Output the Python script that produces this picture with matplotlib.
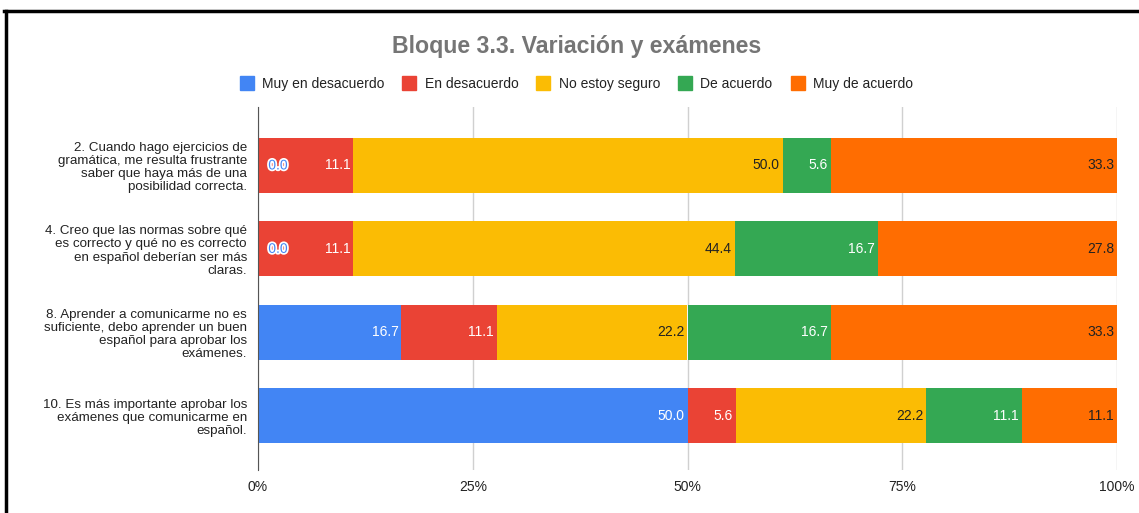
import numpy as np
import matplotlib as mpl, matplotlib.pyplot as plt
import matplotlib.patheffects as pe
from matplotlib.lines import Line2D

mpl.rcParams.update({"font.family": "sans-serif", "font.sans-serif": ["Liberation Sans", "DejaVu Sans"]})

QUESTIONS = ["2. Cuando hago ejercicios de\ngramática, me resulta frustrante\nsaber que haya más de una\nposibilidad correcta.",
             "4. Creo que las normas sobre qué\nes correcto y qué no es correcto\nen español deberían ser más\nclaras.",
             "8. Aprender a comunicarme no es\nsuficiente, debo aprender un buen\nespañol para aprobar los\nexámenes.",
             "10. Es más importante aprobar los\nexámenes que comunicarme en\nespañol."]
SERIES = ["Muy en desacuerdo", "En desacuerdo", "No estoy seguro", "De acuerdo", "Muy de acuerdo"]
muy_des = [0.0, 0.0, 16.7, 50.0]
des = [11.1, 11.1, 11.1, 5.6]
no_seguro = [50.0, 44.4, 22.2, 22.2]
de_acuerdo = [5.6, 16.7, 16.7, 11.1]
muy_de = [33.3, 27.8, 33.3, 11.1]
VALUES = [muy_des, des, no_seguro, de_acuerdo, muy_de]
XTICKS = [0, 25, 50, 75, 100]

COLORS = ["#4285F4", "#EA4335", "#FBBC04", "#34A853", "#FF6D01"]
TXT = ["white", "white", "#222222", "white", "#222222"]

fig = plt.figure(figsize=(11.39, 5.13), dpi=100)
ax = fig.add_axes([258/1139, 1-470/513, (1117-258)/1139, (470-107)/513])

y = np.arange(len(QUESTIONS))
left = np.zeros(len(QUESTIONS))
for vals, col, tc in zip(VALUES, COLORS, TXT):
    v = np.array(vals)
    ax.barh(y, v, left=left, height=0.66, color=col, zorder=3)
    for yi, (l, w) in enumerate(zip(left, v)):
        if w > 0:
            ax.text(l + w - 0.35, yi, f"{w:.1f}", ha="right", va="center", fontsize=10, color=tc, zorder=4)
        else:
            ax.text(l + 1.2, yi, f"{w:.1f}", ha="left", va="center", fontsize=10, color=col, zorder=4,
                    path_effects=[pe.withStroke(linewidth=2.5, foreground="white")])
    left = left + v

ax.set_xlim(0, 100)
ax.set_ylim(3.65, -0.70)
ax.set_xticks(XTICKS)
ax.set_xticklabels([f"{t}%" for t in XTICKS], fontsize=10, color="#222222")
ax.set_yticks(y)
ax.set_yticklabels(QUESTIONS, fontsize=9.6, color="#222222", linespacing=1.14)
ax.tick_params(length=0, pad=8)
ax.tick_params(axis="x", pad=7)
ax.grid(axis="x", color="#d0d0d0", lw=1, zorder=0)
for s in ["top", "right", "bottom"]: ax.spines[s].set_visible(False)
ax.spines["left"].set_color("#555555"); ax.spines["left"].set_zorder(5)

fig.text(0.506, 1-47/513, "Bloque 3.3. Variación y exámenes", ha="center", va="center",
         fontsize=16.7, fontweight="bold", color="#757575")
handles = [Line2D([], [], marker="s", ls="", color=c, markersize=9.5) for c in COLORS]
fig.legend(handles, SERIES, loc="center", bbox_to_anchor=(0.506, 1-84/513), ncol=5, frameon=False,
           fontsize=10, handlelength=1.0, handletextpad=0.6, columnspacing=1.3, labelcolor="#222222")

# screenshot frame
fig.add_artist(Line2D([4/1139, 1], [1-11/513, 1-11/513], color="black", lw=2.5, transform=fig.transFigure))
fig.add_artist(Line2D([5.5/1139, 5.5/1139], [0, 1-11/513], color="black", lw=2.5, transform=fig.transFigure))

fig.savefig("out.png", dpi=100)
